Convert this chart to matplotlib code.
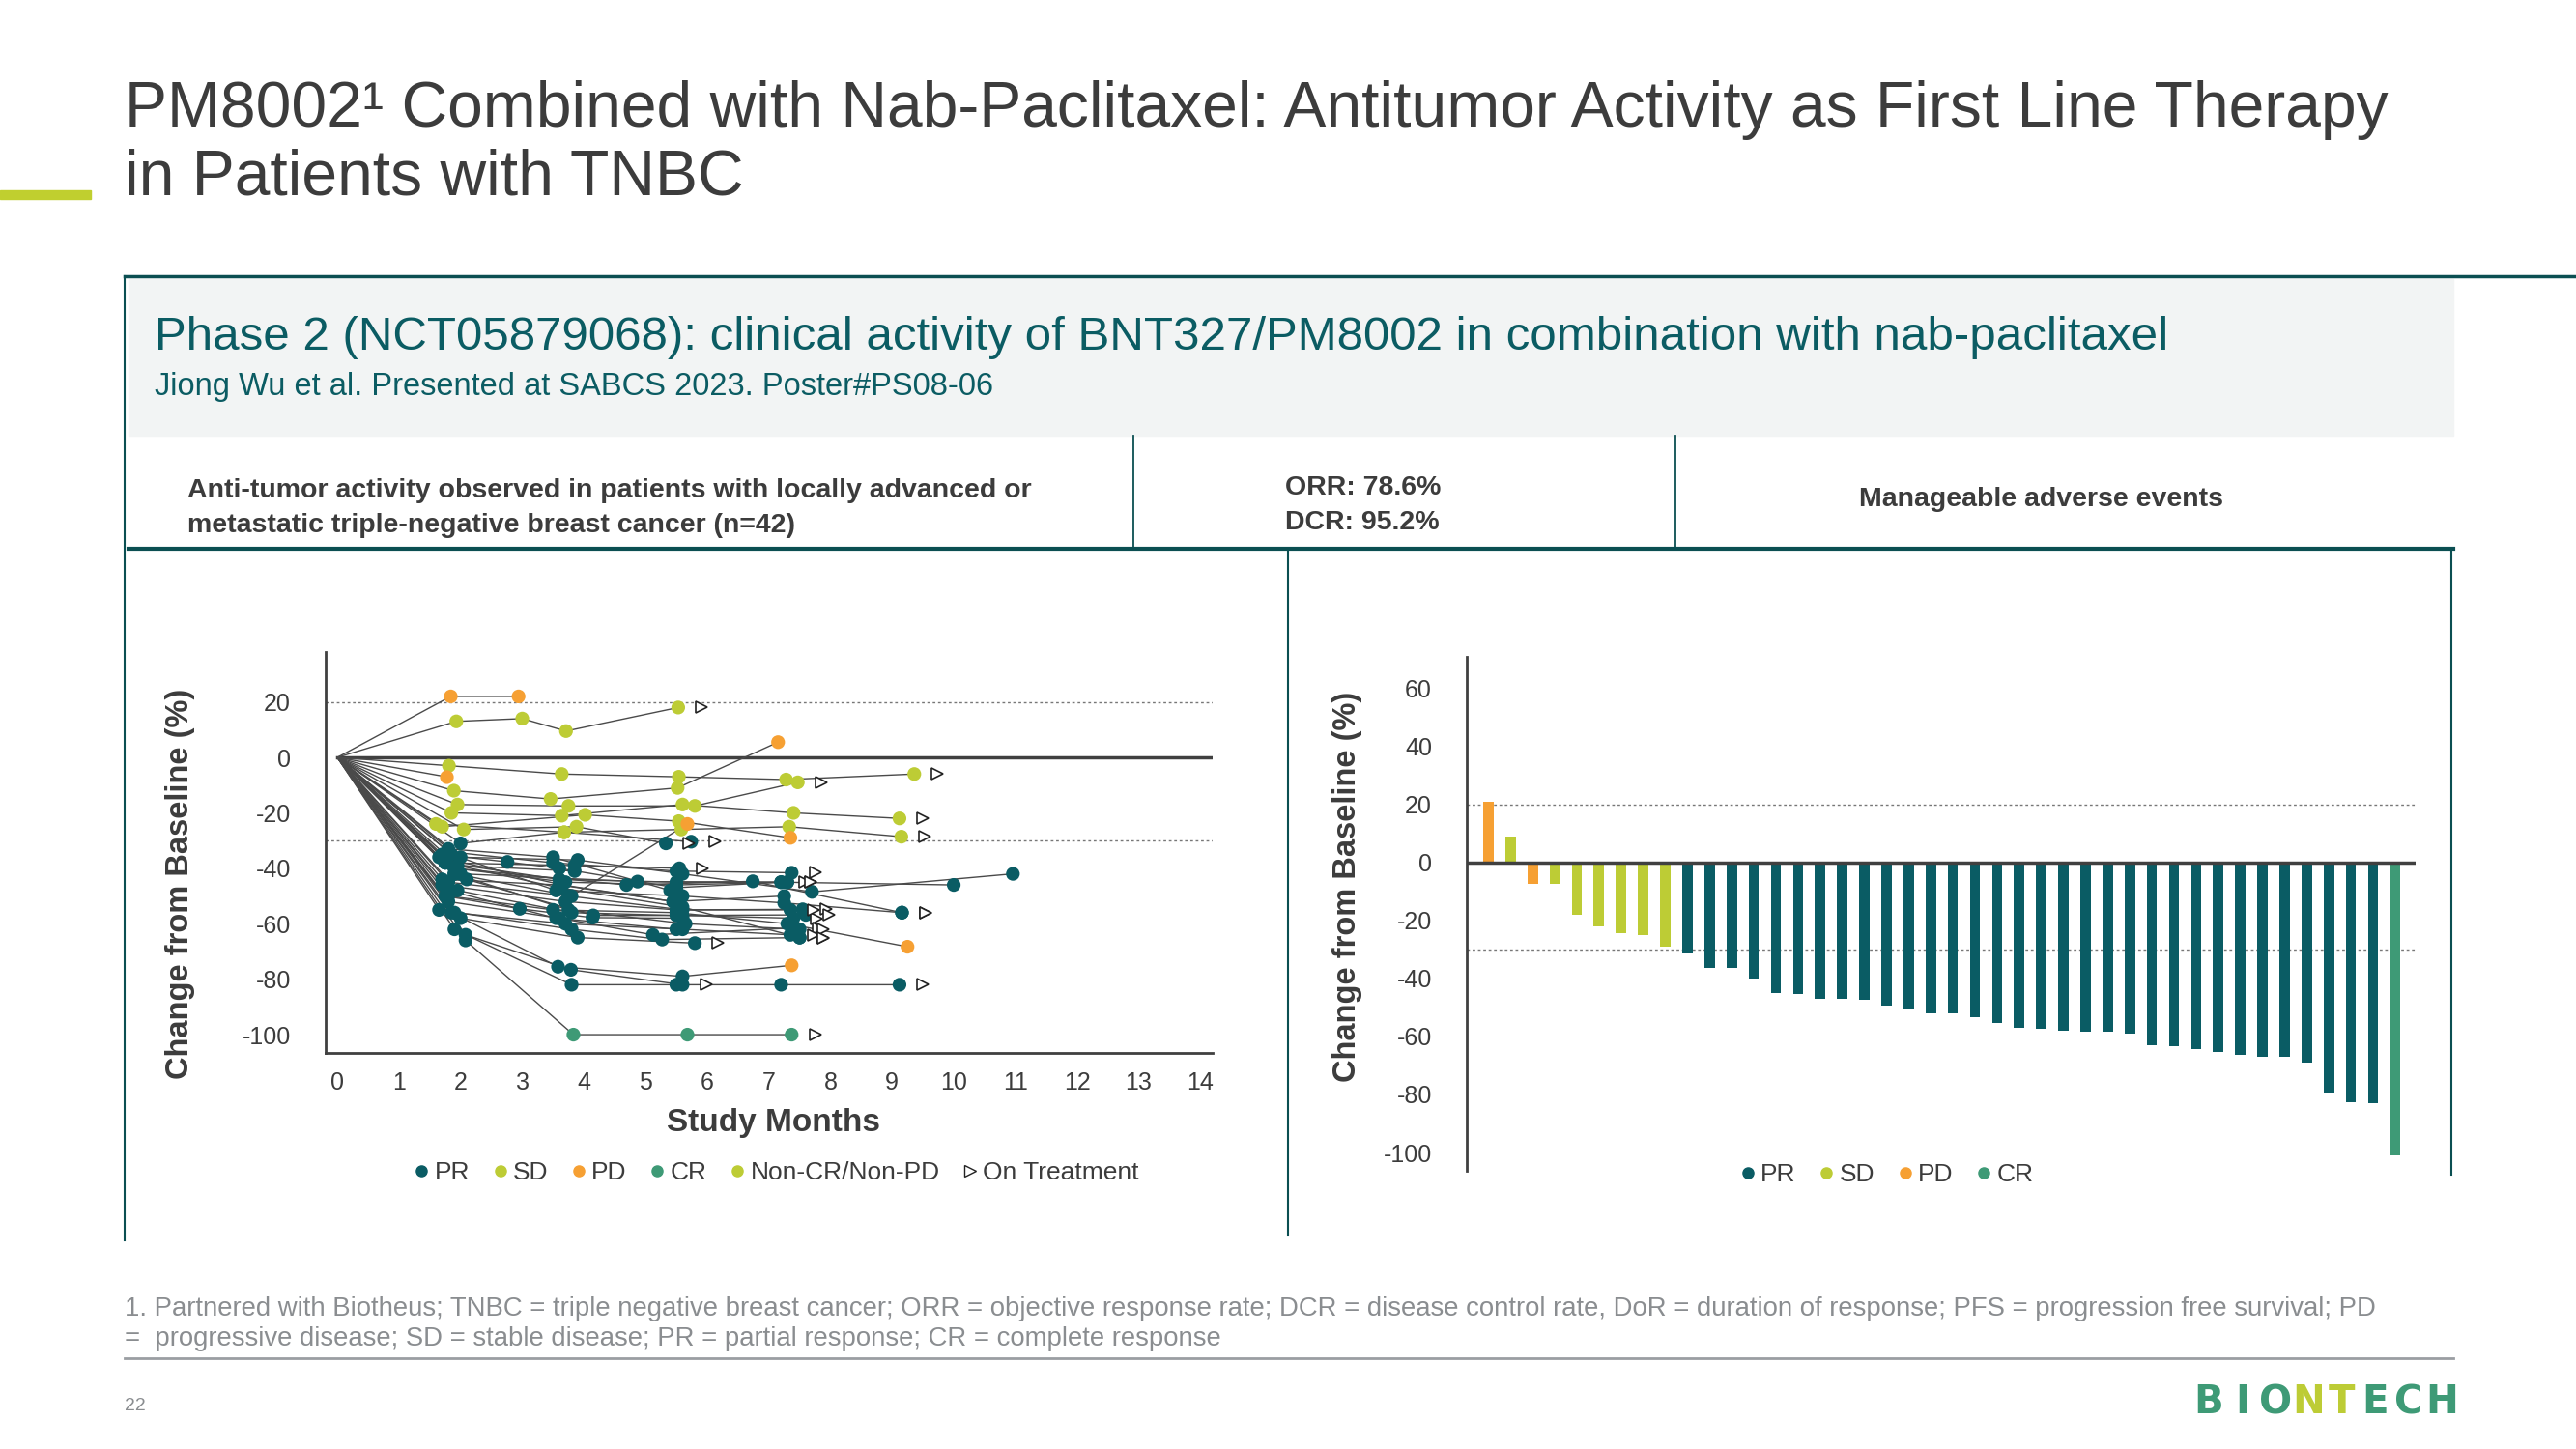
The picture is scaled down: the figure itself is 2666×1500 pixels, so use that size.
import matplotlib.pyplot as plt
from matplotlib.lines import Line2D
from matplotlib.patches import Rectangle

plt.rcParams['font.family'] = ['Liberation Sans', 'DejaVu Sans']
plt.rcParams['axes.unicode_minus'] = False

# colours by response
TEAL = '#0a5c64'
LIME = '#bdcc35'
ORANGE = '#f6a033'
CRGREEN = '#3e9a76'
status_colors = {'R': TEAL, 'S': LIME, 'D': ORANGE, 'C': CRGREEN}

# ---- waterfall data (best change from baseline, %) ----
wf_values = [21, 9, -7.5, -7.5, -18, -22, -24.5, -25, -29,
             -31.5, -36.5, -36.5, -40, -45, -45.5, -47, -47, -47.5, -49.5, -50.5,
             -52, -52, -53.5, -55.5, -57, -57.5, -58, -58.5, -58.5, -59,
             -63, -63.5, -64.5, -65.5, -66.5, -67, -67, -69, -79.5, -82.5, -83,
             -101]
wf_status = list('DSDSSSSSS') + ['R'] * 32 + ['C']

# ---- spider data: months, change (%), status per visit, still on treatment ----
spider_months = [
    [0, 1.84, 2.94],
    [0, 1.93, 3.0, 3.71, 5.53],
    [0, 1.81, 3.64, 5.54, 7.28, 9.36],
    [0, 1.77],
    [0, 1.89, 3.46, 5.52, 7.15],
    [0, 1.95, 3.75, 5.8, 7.47],
    [0, 1.85, 3.64, 5.6, 7.4, 9.12],
    [0, 1.6, 3.68, 5.58, 7.33, 9.15],
    [0, 1.7, 4.02, 5.54, 7.35],
    [0, 2.05, 3.88, 5.33],
    [0, 2.0, 3.68, 5.74],
    [0, 1.9, 3.8, 5.68],
    [0, 1.8, 3.5, 5.5, 7.37],
    [0, 2.0, 3.9, 5.6, 7.7, 10.96],
    [0, 1.75, 3.6, 5.5, 7.2, 10.0],
    [0, 1.9, 3.7, 5.5, 7.3],
    [0, 1.85, 3.55, 5.6, 7.25, 9.16],
    [0, 1.7, 3.6, 5.45, 7.25],
    [0, 1.8, 3.75, 5.6, 7.55],
    [0, 1.95, 3.8, 5.5, 7.6],
    [0, 2.1, 4.15, 5.6, 7.4],
    [0, 1.7, 2.76, 3.6, 5.5, 7.2],
    [0, 1.9, 4.69, 6.74, 9.16],
    [0, 2.0, 4.87, 7.3],
    [0, 1.75, 2.96, 4.14, 5.6],
    [0, 1.8, 3.6, 5.12, 7.43],
    [0, 1.65, 3.8, 5.27, 7.5],
    [0, 1.9, 3.7, 5.6, 7.35],
    [0, 2.0, 3.9, 5.8],
    [0, 1.85, 3.58, 5.6, 7.37],
    [0, 1.9, 3.8, 5.5, 7.2, 9.12],
    [0, 2.08, 3.79, 5.6],
    [0, 2.08, 3.83, 5.68, 7.37],
    [0, 1.8, 3.5, 5.5, 7.3, 9.25],
    [0, 1.75, 3.85, 5.55],
    [0, 1.8, 3.5, 5.4],
    [0, 1.7, 3.7, 5.5, 7.35],
    [0, 1.65, 3.65, 5.45],
    [0, 1.9, 3.75, 5.65, 7.5],
    [0, 1.8, 3.55, 5.5],
    [0, 1.75, 3.6, 5.6, 7.5],
    [0, 1.95, 3.85],
]
spider_change = [
    [0, 22, 22],
    [0, 13, 14, 9.5, 18],
    [0, -3, -6, -7, -8, -6],
    [0, -7],
    [0, -12, -15, -11, 5.5],
    [0, -17, -17.5, -17.5, -9],
    [0, -20, -21, -17, -20, -22],
    [0, -24, -27, -26, -25, -28.6],
    [0, -25, -20.7, -23, -29],
    [0, -26, -25, -31],
    [0, -31, -27, -30.4],
    [0, -42, -50, -24],
    [0, -34, -38, -41, -41.6],
    [0, -36, -37, -42, -48.5, -42],
    [0, -38, -44, -45, -45, -46],
    [0, -40, -45, -46, -45],
    [0, -35, -48, -50, -52.5, -56],
    [0, -44, -46, -52, -50],
    [0, -45, -50, -55, -54.8],
    [0, -48, -56, -57, -56.8],
    [0, -44, -57, -57, -58],
    [0, -35, -37.7, -40, -47, -45],
    [0, -40, -46, -44.7, -56],
    [0, -42, -44.8, -45],
    [0, -50, -54.6, -57.8, -58],
    [0, -52, -58, -64, -61.5],
    [0, -55, -62, -65.7, -65],
    [0, -56, -60, -62, -64],
    [0, -58, -65, -67],
    [0, -56, -75.5, -79, -75],
    [0, -62, -82, -82, -82, -82],
    [0, -64, -76.6, -82],
    [0, -66, -100, -100, -100],
    [0, -50, -55, -56, -60, -68.3],
    [0, -38, -39, -40],
    [0, -33, -36, -48],
    [0, -46, -52, -55, -55],
    [0, -36, -46, -52],
    [0, -42, -55, -60, -62],
    [0, -48, -58, -62],
    [0, -38, -47, -54, -65],
    [0, -39, -41],
]
spider_status = [
    'DD', 'SSSS', 'SSSSS', 'D', 'SSSD', 'SSSS', 'SSSSS', 'SSSSS', 'SSSD',
    'SSR', 'RSR', 'RRD', 'RRRR', 'RRRRR', 'RRRRR', 'RRRR', 'RRRRR', 'RRRR',
    'RRRR', 'RRRR', 'RRRR', 'RRRRR', 'RRRR', 'RRR', 'RRRR', 'RRRR', 'RRRR',
    'RRRR', 'RRR', 'RRRD', 'RRRRR', 'RRR', 'RCCC', 'RRRRD', 'RRR', 'RRR',
    'RRRR', 'RRR', 'RRRR', 'RRR', 'RRRR', 'RR',
]
spider_on_tx = [
    False, True, True, False, False, True, True, True, False, True, True, False,
    True, False, False, True, True, False, True, True, True, True, True, True,
    False, True, True, True, True, False, True, True, True, False, True, False,
    True, False, True, False, True, False,
]

W, H = 2666, 1500
fig = plt.figure(figsize=(W / 100, H / 100), dpi=100)


def fx(px):
    return px / W


def fy(py):
    return 1 - py / H


TXT = '#3c3c3c'
FRAME = '#0b4f52'

# ---- title ----
fig.text(fx(129), fy(114), 'PM8002¹ Combined with Nab-Paclitaxel: Antitumor Activity as First Line Therapy',
         fontsize=47.5, color=TXT, va='center', ha='left')
fig.text(fx(129), fy(184), 'in Patients with TNBC', fontsize=47.5, color=TXT, va='center', ha='left')
fig.add_artist(Rectangle((0, fy(206)), fx(94), 9 / H, color='#c0cf2f', transform=fig.transFigure))

# ---- header panel ----
fig.add_artist(Rectangle((fx(133), fy(451)), fx(2539 - 133), (451 - 289) / H,
                         color='#f2f4f4', transform=fig.transFigure, zorder=0))
fig.add_artist(Line2D([fx(129), 1], [fy(286), fy(286)], color=FRAME, lw=2.5))
fig.add_artist(Line2D([fx(129), fx(129)], [fy(286), fy(1284)], color=FRAME, lw=1.5))
fig.text(fx(160), fy(350), 'Phase 2 (NCT05879068): clinical activity of BNT327/PM8002 in combination with nab-paclitaxel',
         fontsize=35.5, color='#0b5c63', va='center')
fig.text(fx(160), fy(400), 'Jiong Wu et al. Presented at SABCS 2023. Poster#PS08-06',
         fontsize=23.5, color='#0b5c63', va='center')

# row of key messages
for xv in (1173, 1734):
    fig.add_artist(Line2D([fx(xv), fx(xv)], [fy(451), fy(566)], color=FRAME, lw=1.3))
fig.add_artist(Line2D([fx(133), fx(2539)], [fy(568), fy(568)], color=FRAME, lw=3))
fig.add_artist(Line2D([fx(1333), fx(1333)], [fy(568), fy(1279)], color=FRAME, lw=1.5))
fig.add_artist(Line2D([fx(2537), fx(2537)], [fy(568), fy(1216)], color=FRAME, lw=1.5))
fig.text(fx(194), fy(508), 'Anti-tumor activity observed in patients with locally advanced or',
         fontsize=20.5, fontweight='bold', color=TXT, va='center')
fig.text(fx(194), fy(544), 'metastatic triple-negative breast cancer (n=42)',
         fontsize=20.5, fontweight='bold', color=TXT, va='center')
fig.text(fx(1330), fy(505), 'ORR: 78.6%', fontsize=20.5, fontweight='bold', color=TXT, va='center')
fig.text(fx(1330), fy(541), 'DCR: 95.2%', fontsize=20.5, fontweight='bold', color=TXT, va='center')
fig.text(fx(2113), fy(517), 'Manageable adverse events', fontsize=20.5, fontweight='bold',
         color=TXT, va='center', ha='center')

# ---- spider plot ----
ax1 = fig.add_axes([fx(337), fy(1090), fx(1255 - 337), (1090 - 675) / H])
for months, vals, st, tx in zip(spider_months, spider_change, spider_status, spider_on_tx):
    ax1.plot(months, vals, color='#4a4a4a', lw=1, zorder=2)
    ax1.scatter(months[1:], vals[1:], s=105, c=[status_colors[c] for c in st],
                zorder=3, linewidths=0)
    if tx:
        ax1.plot(months[-1] + 0.38, vals[-1], marker='>', ms=9, mfc='white',
                 mec='#222222', mew=1.2, ls='', zorder=4)
ax1.axhline(0, xmin=0.013, color='#404040', lw=2.5, zorder=1)
for yv in (20, -30):
    ax1.axhline(yv, color='#777777', lw=1, ls=(0, (2, 2)), zorder=1)
ax1.set_xlim(-0.19, 14.2)
ax1.set_ylim(-106.6, 38)
ax1.set_xticks(range(0, 15))
ax1.set_yticks([20, 0, -20, -40, -60, -80, -100])
ax1.tick_params(length=0, labelsize=18, labelcolor=TXT)
ax1.tick_params(axis='y', pad=26)
ax1.tick_params(axis='x', pad=14)
for s in ('top', 'right'):
    ax1.spines[s].set_visible(False)
for s in ('left', 'bottom'):
    ax1.spines[s].set_color('#404040')
    ax1.spines[s].set_linewidth(2)
ax1.set_facecolor('none')
fig.text(fx(187), fy(915), 'Change from Baseline (%)', rotation=90, fontsize=23.5,
         fontweight='bold', color=TXT, va='center', ha='center')
fig.text(fx(800), fy(1163), 'Study Months', fontsize=24, fontweight='bold',
         color=TXT, va='center', ha='center')

h_left = [Line2D([], [], marker='o', ls='', color=TEAL, ms=8),
          Line2D([], [], marker='o', ls='', color=LIME, ms=8),
          Line2D([], [], marker='o', ls='', color=ORANGE, ms=8),
          Line2D([], [], marker='o', ls='', color=CRGREEN, ms=8),
          Line2D([], [], marker='o', ls='', color=LIME, ms=8),
          Line2D([], [], marker='>', ls='', mfc='white', mec='#222222', ms=9)]
fig.legend(h_left, ['PR', 'SD', 'PD', 'CR', 'Non-CR/Non-PD', 'On Treatment'],
           loc='center', bbox_to_anchor=(fx(801), fy(1214)), ncol=6, frameon=False,
           fontsize=19, handletextpad=0.0, columnspacing=0.7, handlelength=1.0,
           labelcolor=TXT)

# ---- waterfall ----
ax2 = fig.add_axes([fx(1518), fy(1212), fx(2499.5 - 1518), (1212 - 680) / H])
idx = list(range(len(wf_values)))
ax2.bar(idx, wf_values, width=0.47, color=[status_colors[c] for c in wf_status], zorder=2)
ax2.axhline(0, color='#404040', lw=2.5, zorder=3)
for yv in (20, -30):
    ax2.axhline(yv, color='#777777', lw=1, ls=(0, (2, 2)), zorder=1)
ax2.set_xlim(-0.98, 41.9)
ax2.set_ylim(-106.3, 70.8)
ax2.set_xticks([])
ax2.set_yticks([60, 40, 20, 0, -20, -40, -60, -80, -100])
ax2.tick_params(length=0, labelsize=18, labelcolor=TXT, pad=26)
for s in ('top', 'right', 'bottom'):
    ax2.spines[s].set_visible(False)
ax2.spines['left'].set_color('#404040')
ax2.spines['left'].set_linewidth(2)
ax2.set_facecolor('none')
fig.text(fx(1394), fy(918), 'Change from Baseline (%)', rotation=90, fontsize=23.5,
         fontweight='bold', color=TXT, va='center', ha='center')
h_right = [Line2D([], [], marker='o', ls='', color=c, ms=8) for c in (TEAL, LIME, ORANGE, CRGREEN)]
fig.legend(h_right, ['PR', 'SD', 'PD', 'CR'], loc='center', bbox_to_anchor=(fx(1950), fy(1216)),
           ncol=4, frameon=False, fontsize=19, handletextpad=0.0, columnspacing=0.7,
           handlelength=1.0, labelcolor=TXT)

# ---- footer ----
FOOT = '#8a8d90'
fig.text(fx(129), fy(1355), '1. Partnered with Biotheus; TNBC = triple negative breast cancer; ORR = objective response rate; '
         'DCR = disease control rate, DoR = duration of response; PFS = progression free survival; PD',
         fontsize=19.8, color=FOOT, va='center')
fig.text(fx(129), fy(1386), '=  progressive disease; SD = stable disease; PR = partial response; CR = complete response',
         fontsize=19.8, color=FOOT, va='center')
fig.add_artist(Line2D([fx(129), fx(2539)], [fy(1406), fy(1406)], color='#9a9ea2', lw=2))
fig.text(fx(129), fy(1455), '22', fontsize=14, color=FOOT, va='center')

logo_colors = [CRGREEN, CRGREEN, CRGREEN, LIME, LIME, CRGREEN, CRGREEN, CRGREEN]
for i, (ch, c) in enumerate(zip('BIONTECH', logo_colors)):
    fig.text(fx(2286 + i * 34.5), fy(1452), ch, fontsize=29, color=c, va='center',
             ha='center', family='DejaVu Sans', fontweight='bold')

fig.savefig('out.png', dpi=100)
